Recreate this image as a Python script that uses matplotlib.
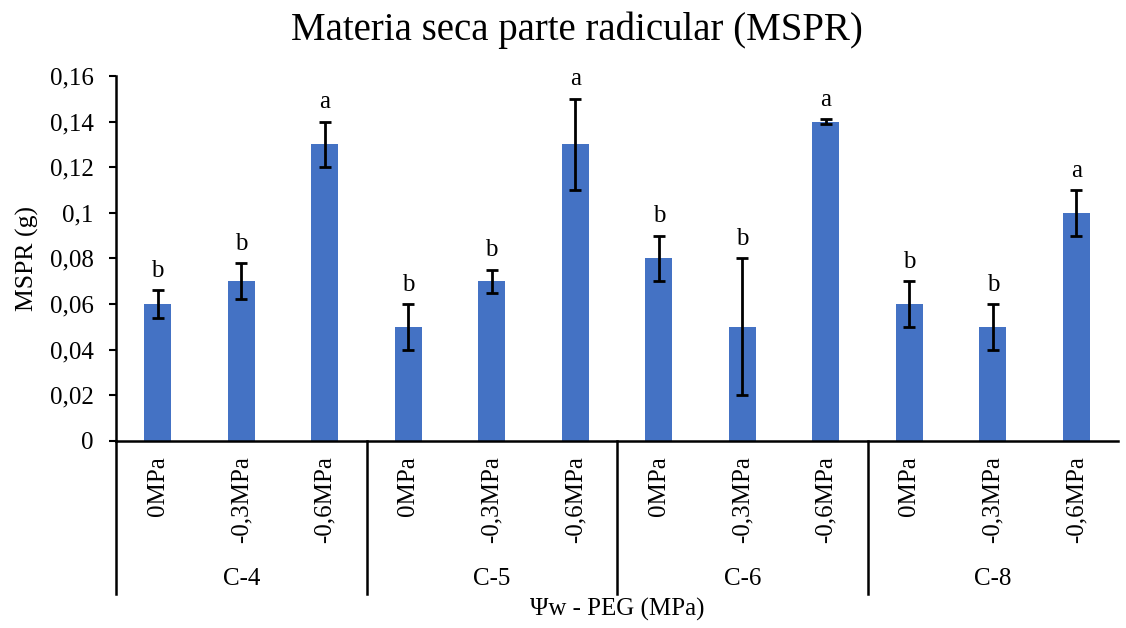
import matplotlib.pyplot as plt
import numpy as np

# Data
cultivars = ['C-4', 'C-5', 'C-6', 'C-8']
treatments = ['0MPa', '-0,3MPa', '-0,6MPa']
mspr = [0.06, 0.07, 0.13,
        0.05, 0.07, 0.13,
        0.08, 0.05, 0.14,
        0.06, 0.05, 0.10]
err = [0.006, 0.008, 0.010,
       0.010, 0.005, 0.020,
       0.010, 0.030, 0.001,
       0.010, 0.010, 0.010]
letters = ['b', 'b', 'a',
           'b', 'b', 'a',
           'b', 'b', 'a',
           'b', 'b', 'a']
yticks = [0, 0.02, 0.04, 0.06, 0.08, 0.10, 0.12, 0.14, 0.16]
ytick_labels = ['0', '0,02', '0,04', '0,06', '0,08', '0,1', '0,12', '0,14', '0,16']

plt.rcParams['font.family'] = ['Liberation Serif', 'DejaVu Serif']

fig = plt.figure(figsize=(11.26, 6.28), dpi=100)
ax = fig.add_axes([0.103, 0.298, 0.890, 0.581])

x = np.arange(len(mspr))
bar_color = '#4472C4'

ax.bar(x, mspr, width=0.32, color=bar_color, zorder=2)
ax.errorbar(x, mspr, yerr=err, fmt='none', ecolor='black', elinewidth=2,
            capsize=4.5, capthick=2, zorder=3)

# significance letters above the error bars
for xi, v, e, lab in zip(x, mspr, err, letters):
    ax.annotate(lab, (xi, v + e), xytext=(0, 6), textcoords='offset points',
                ha='center', va='bottom', fontsize=18)

ax.set_xlim(-0.5, len(mspr) - 0.5)
ax.set_ylim(0, 0.16)
ax.set_yticks(yticks)
ax.set_yticklabels(ytick_labels, fontsize=18)
ax.tick_params(axis='y', length=5, width=1.5, pad=11)

ax.set_xticks(x)
ax.set_xticklabels(treatments * len(cultivars), rotation=90, fontsize=18, va='top')
ax.tick_params(axis='x', length=0, pad=11)

for s in ['top', 'right']:
    ax.spines[s].set_visible(False)
for s in ['left', 'bottom']:
    ax.spines[s].set_linewidth(1.8)

# group separators and cultivar labels below the axis
trans = ax.get_xaxis_transform()
n = len(treatments)
for k in range(len(cultivars)):
    ax.plot([k * n - 0.5, k * n - 0.5], [0, -0.42], color='black', lw=1.8,
            transform=trans, clip_on=False)
    ax.text(k * n + (n - 1) / 2, -0.378, cultivars[k], transform=trans,
            ha='center', va='center', fontsize=18)

ax.text(0.5, -0.463, 'Ψw - PEG (MPa)', transform=ax.transAxes,
        ha='center', va='center', fontsize=18)
ax.text(-0.088, 0.5, 'MSPR (g)', transform=ax.transAxes, rotation=90,
        ha='center', va='center', fontsize=18.5)

fig.text(0.512, 0.952, 'Materia seca parte radicular (MSPR)',
         ha='center', va='center', fontsize=28)

fig.savefig('out.png', dpi=100)
